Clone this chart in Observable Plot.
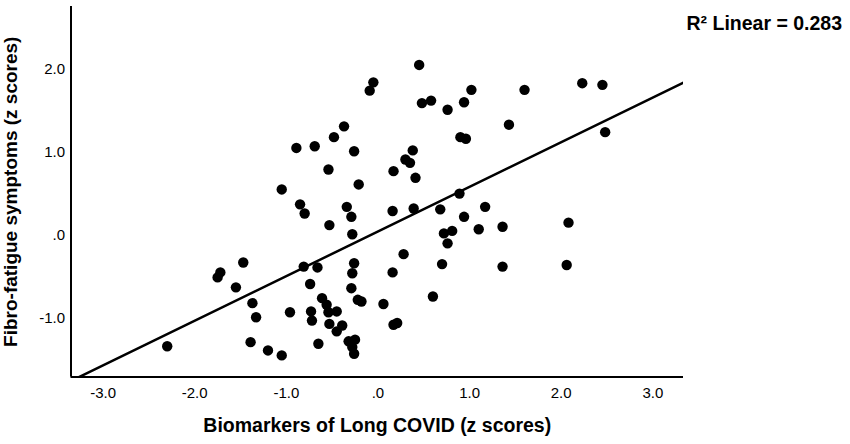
<!DOCTYPE html>
<html>
<head>
<meta charset="utf-8">
<script src="https://cdn.jsdelivr.net/npm/d3@7"></script>
<script src="https://cdn.jsdelivr.net/npm/@observablehq/plot@0.6"></script>
<style>
  body { margin: 0; background: #fff; }
  #chart svg { display: block; }
</style>
</head>
<body>
<div id="chart"></div>
<script>
// Biomarkers of Long COVID (z scores) -- x values
const biomarkers = [
  0.45, -0.05, -0.09, 1.02, 0.48, 0.58, 0.76, 0.94, 1.60, 2.23, 2.45, 1.43, 0.90, 0.96, 2.48,
  -0.48, -0.37, -0.89, -0.69, -0.26, -0.54, -0.21, -1.05, 0.38, 0.30, 0.35, 0.17, 0.41, 0.89,
  -0.85, -0.80, -0.34, -0.29, -0.53, -0.28, 0.16, 0.39, 0.68, 0.94, 1.17, 0.72, 0.81, 0.76,
  1.10, 1.36, 2.08, 0.28, 0.70, 1.36, 2.06, 0.16, -1.47, -1.72, -1.75, -1.55, -0.81, -0.66,
  -0.26, -0.28, -0.74, -0.29, -0.61, -0.56, -0.54, -0.45, -0.22, -0.18, 0.06, -0.96, -0.73,
  -0.72, -0.53, -0.39, -0.45, 0.17, 0.21, -0.65, -0.32, -0.25, -0.28, -0.26, -1.05, -1.37,
  -1.33, -1.39, -1.20, -2.30, 0.60
];
// Fibro-fatigue symptoms (z scores) -- y values
const fibroFatigue = [
  2.05, 1.84, 1.74, 1.75, 1.59, 1.62, 1.51, 1.60, 1.75, 1.83, 1.81, 1.33, 1.18, 1.16, 1.24,
  1.18, 1.31, 1.05, 1.07, 1.01, 0.79, 0.61, 0.55, 1.02, 0.91, 0.87, 0.77, 0.69, 0.50,
  0.37, 0.26, 0.34, 0.22, 0.12, 0.01, 0.29, 0.32, 0.31, 0.22, 0.34, 0.02, 0.05, -0.10,
  0.07, 0.10, 0.15, -0.23, -0.35, -0.38, -0.36, -0.45, -0.33, -0.45, -0.51, -0.63, -0.38, -0.39,
  -0.34, -0.46, -0.59, -0.64, -0.76, -0.84, -0.93, -0.92, -0.78, -0.80, -0.83, -0.93, -0.92,
  -1.03, -1.07, -1.09, -1.16, -1.08, -1.06, -1.31, -1.28, -1.26, -1.35, -1.43, -1.45, -0.82,
  -0.99, -1.29, -1.39, -1.34, -0.74
];

const xTicks = [-3, -2, -1, 0, 1, 2, 3];
const yTicks = [-1, 0, 1, 2];
const xDomain = [-3.35, 3.335];
const yDomain = [-1.71, 2.754];

const xLabel = "Biomarkers of Long COVID (z scores)";
const yLabel = "Fibro-fatigue symptoms (z scores)";
const r2Label = "R\u00B2 Linear = 0.283";

// table for the library
const points = biomarkers.map((x, i) => ({x, y: fibroFatigue[i]}));

// least-squares fit computed from the data
const mx = d3.mean(biomarkers), my = d3.mean(fibroFatigue);
const sxy = d3.sum(points, d => (d.x - mx) * (d.y - my));
const sxx = d3.sum(points, d => (d.x - mx) ** 2);
const slope = sxy / sxx;
const intercept = my - slope * mx;
const fitLine = xDomain.map(x => ({x, y: intercept + slope * x}));

const fmt = v => v === 0 ? ".0" : v.toFixed(1);
const FONT = "'Liberation Sans', Arial, Helvetica, sans-serif";

const chart = Plot.plot({
  width: 850,
  height: 444,
  marginLeft: 70.5,
  marginRight: 167,
  marginTop: 6,
  marginBottom: 67.5,
  style: {fontFamily: FONT, fontSize: "15px", color: "#000", background: "#fff"},
  x: {domain: xDomain, label: null},
  y: {domain: yDomain, label: null},
  marks: [
    Plot.axisX(xTicks, {tickSize: 0, tickPadding: 10, tickFormat: fmt, label: null, fontSize: 15}),
    Plot.axisY(yTicks, {tickSize: 0, tickPadding: 6, tickFormat: fmt, label: null, fontSize: 15}),
    Plot.ruleX([xDomain[0]], {y1: yDomain[0], y2: yDomain[1], stroke: "#000", strokeWidth: 2}),
    Plot.ruleY([yDomain[0]], {x1: xDomain[0], x2: xDomain[1], stroke: "#000", strokeWidth: 2}),
    Plot.line(fitLine, {x: "x", y: "y", stroke: "#000", strokeWidth: 2.5, clip: true}),
    Plot.dot(points, {x: "x", y: "y", r: 5.2, fill: "#000", stroke: "none"}),
    Plot.text([xLabel], {frameAnchor: "bottom", dy: 48.5, textAnchor: "middle", lineAnchor: "middle",
      fontSize: 19.5, fontWeight: "bold", fill: "#000"}),
    Plot.text([yLabel], {frameAnchor: "left", dx: -60.5, rotate: -90, textAnchor: "middle",
      lineAnchor: "middle", fontSize: 19, fontWeight: "bold", fill: "#000"}),
    Plot.text([r2Label], {frameAnchor: "top-right", dx: 3, dy: 17, textAnchor: "start",
      lineAnchor: "middle", fontSize: 19.5, fontWeight: "bold", fill: "#000"})
  ]
});
document.getElementById("chart").appendChild(chart);
</script>
</body>
</html>
